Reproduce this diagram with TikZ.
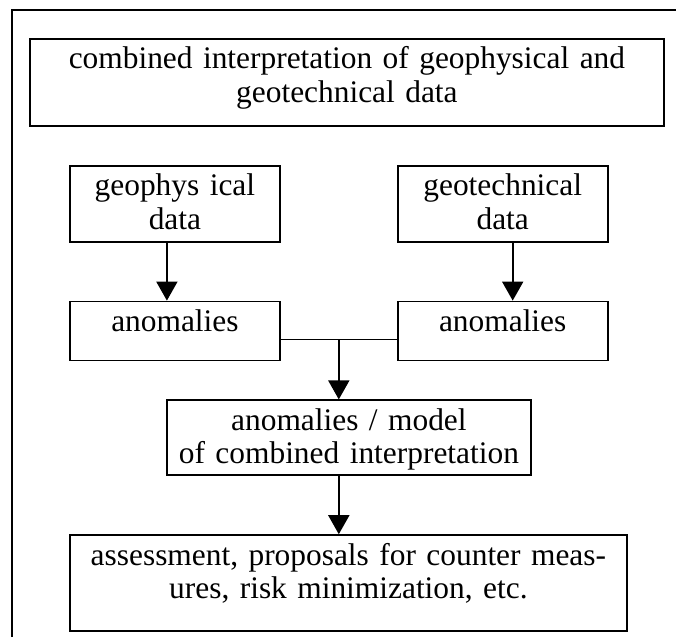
\documentclass[tikz,border=0pt]{standalone}
\usepackage{fontspec}
\setmainfont{Liberation Serif}
\usetikzlibrary{positioning,arrows.meta}

\tikzset{
  box/.style={draw, line width=1.8pt, inner sep=0pt, align=center,
    text height=30pt, font=\fontsize{31.4}{33.5}\selectfont},
  arr/.style={line width=1.8pt, -{Triangle[length=19pt,width=21pt]}}
}

\begin{document}
\begin{tikzpicture}[x=1pt,y=-1pt]
  \useasboundingbox (0,0) rectangle (676,637);
  % outer frame
  \draw[line width=2pt] (12,637) -- (12,10) -- (676,10);
  % Define nodes
  \node[box, text width=634pt, text depth=57pt, anchor=north west] (top) at (29,38)
    {combined interpretation of geophysical and\\ geotechnical data};
  \node[box, text width=210pt, text depth=46pt, below right=38pt and 40pt of top.south west] (geophys)
    {geophys ical\\ data};
  \node[box, text width=210pt, text depth=46pt, right=116pt of geophys] (geotech)
    {geotechnical\\ data};
  \node[box, text width=210pt, text depth=29pt, below=58pt of geophys] (anomL) {anomalies};
  \node[box, text width=210pt, text depth=29pt, below=58pt of geotech] (anomR) {anomalies};
  \node[box, text width=364pt, text depth=45pt, below right=38pt and 97pt of anomL.south west] (comb)
    {anomalies / model\\ of combined interpretation};
  \node[box, text width=557pt, text depth=66pt, below right=58pt and -97pt of comb.south west] (assess)
    {assessment, proposals for counter meas-\\ ures, risk minimization, etc.};
  \path (anomL.east) -- (anomR.west) coordinate[pos=.5, yshift=-8.5pt] (join);
  % Connect nodes
  \draw[arr] ([xshift=-8pt]geophys.south) -- ([xshift=-8pt]anomL.north);
  \draw[arr] ([xshift=10pt]geotech.south) -- ([xshift=10pt]anomR.north);
  \draw[line width=1.8pt] (anomL.east |- join) -- (anomR.west |- join);
  \draw[arr] (join) -- (join |- comb.north);
  \draw[arr] (join |- comb.south) -- (join |- assess.north);
\end{tikzpicture}
\end{document}
